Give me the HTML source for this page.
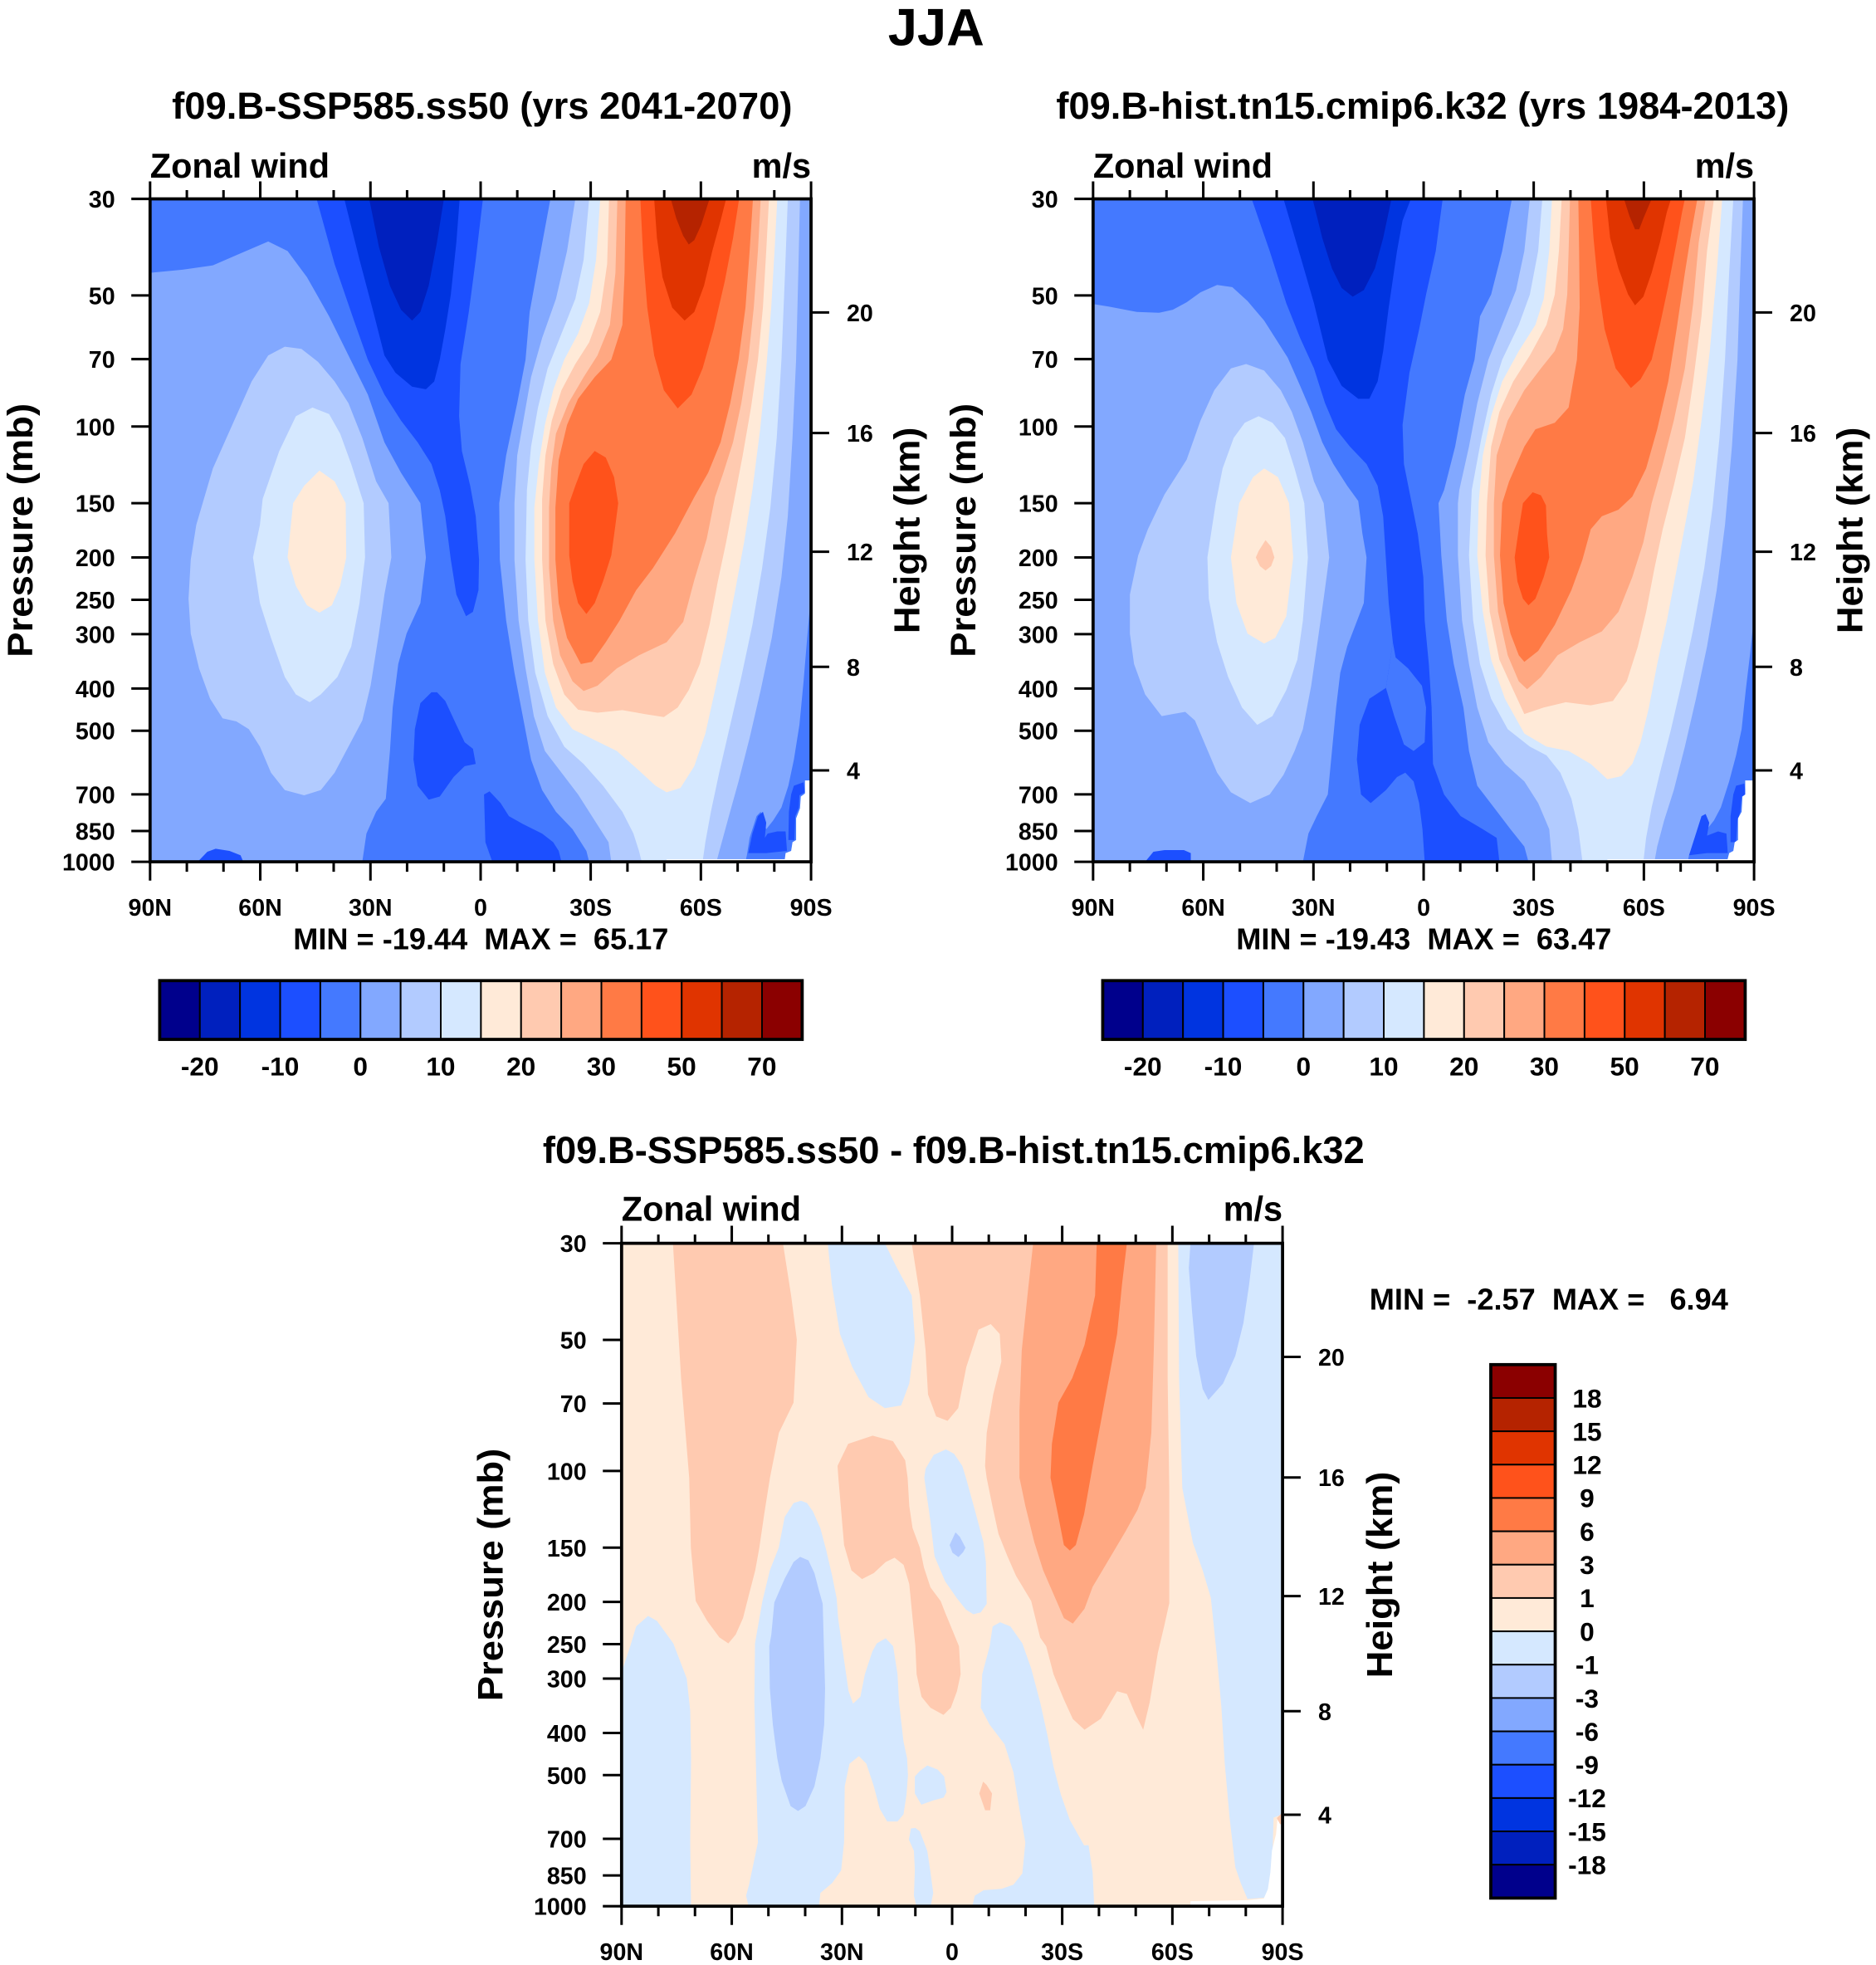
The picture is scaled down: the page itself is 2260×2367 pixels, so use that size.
<!DOCTYPE html>
<html><head><meta charset="utf-8">
<style>
html,body{margin:0;padding:0;background:#fff;width:2260px;height:2367px;overflow:hidden}
svg{display:block}
text{font-family:"Liberation Sans",Arial,sans-serif;font-weight:bold;fill:#000}
.k1{fill:#00008C}.k2{fill:#0020BE}.k3{fill:#0034E0}.k4{fill:#1C4FFF}.k5{fill:#4479FF}.k6{fill:#82A8FF}.k7{fill:#B2CBFF}.k8{fill:#D5E8FF}
.k9{fill:#FFEAD8}.k10{fill:#FFCAB0}.k11{fill:#FFA882}.k12{fill:#FF7A45}.k13{fill:#FF521B}.k14{fill:#E03400}.k15{fill:#B52300}.k16{fill:#8B0000}
.w{fill:#fff}
.tk{stroke:#000;stroke-width:2;fill:none}
.bx{stroke:#000;stroke-width:2.5;fill:none}
.cb{stroke:#000;stroke-width:1.3}
</style></head>
<body>
<svg xmlns="http://www.w3.org/2000/svg" xmlns:xlink="http://www.w3.org/1999/xlink" width="2260" height="2367" viewBox="0 0 1500 1571" preserveAspectRatio="none">
<defs>
<clipPath id="cp1"><rect x="120" y="159" width="528.5" height="530"/></clipPath>
<clipPath id="cp2"><rect x="874" y="159" width="528.5" height="530"/></clipPath>
<clipPath id="cp3"><rect x="497" y="994" width="528.5" height="529.5"/></clipPath>
<g id="ticks">
<path class="tk" d="M120,159V145M149.4,159V152M178.7,159V152M208.1,159V145M237.4,159V152M266.8,159V152M296.2,159V145M325.5,159V152M354.9,159V152M384.3,159V145M413.6,159V152M443,159V152M472.3,159V145M501.7,159V152M531.1,159V152M560.4,159V145M589.8,159V152M619.1,159V152M648.5,159V145"/>
<path class="tk" d="M120,689V704M149.4,689V697M178.7,689V697M208.1,689V704M237.4,689V697M266.8,689V697M296.2,689V704M325.5,689V697M354.9,689V697M384.3,689V704M413.6,689V697M443,689V697M472.3,689V704M501.7,689V697M531.1,689V697M560.4,689V704M589.8,689V697M619.1,689V697M648.5,689V704"/>
<path class="tk" d="M120,159H105M120,236.2H105M120,287.1H105M120,341H105M120,402.3H105M120,445.7H105M120,479.5H105M120,507H105M120,550.5H105M120,584.2H105M120,635.1H105M120,664.4H105M120,689H105"/>
<path class="tk" d="M648.5,249.8H663M648.5,346.2H663M648.5,441.1H663M648.5,533.1H663M648.5,615.9H663"/>
<rect class="bx" x="120" y="159" width="528.5" height="530"/>
</g>
</defs>

<!-- Main title -->
<text x="748.5" y="36" font-size="42" text-anchor="middle">JJA</text>

<!-- ================= LEFT PANEL ================= -->
<text x="385.5" y="95" font-size="30" text-anchor="middle" textLength="496" lengthAdjust="spacingAndGlyphs">f09.B-SSP585.ss50 (yrs 2041-2070)</text>
<text x="120" y="142" font-size="27.5" textLength="143.5" lengthAdjust="spacingAndGlyphs">Zonal wind</text>
<text x="648.5" y="142" font-size="27.5" text-anchor="end">m/s</text>

<g clip-path="url(#cp1)">
<rect x="120" y="159" width="528.5" height="530" class="k5"/>
<g transform="translate(120,159) scale(0.22122,0.34754) translate(-33,-30)">
<polygon class="k6" points="33,200 150,193 260,183 350,158 460,128 530,150 600,210 680,300 750,390 820,480 880,590 940,660 1010,730 1030,855 1010,960 960,1030 930,1100 910,1200 900,1300 885,1410 850,1440 815,1490 800,1555 33,1555"/>
<polygon class="k7" points="520,370 460,390 400,450 330,550 260,650 200,780 180,860 172,950 180,1030 210,1110 250,1180 295,1225 345,1232 390,1250 430,1290 470,1350 520,1390 590,1402 650,1390 700,1350 750,1290 800,1230 830,1150 860,1030 880,940 905,855 895,730 850,680 800,580 750,500 700,450 640,405 580,375"/>
<polygon class="k8" points="620,510 560,530 500,610 440,720 430,780 405,855 430,960 470,1040 520,1130 560,1170 610,1188 650,1170 710,1130 760,1060 790,960 810,855 805,730 760,640 720,570 680,525"/>
<polygon class="k9" points="645,655 590,690 550,730 530,855 560,920 600,965 645,982 690,965 720,920 742,855 740,730 700,680"/>
<polygon class="k4" points="635,30 700,180 770,310 820,400 880,480 940,540 1000,590 1050,640 1080,700 1100,760 1120,860 1140,940 1175,990 1200,980 1220,930 1222,860 1210,760 1190,690 1160,610 1150,530 1155,410 1185,290 1210,170 1236,30"/>
<polygon class="k3" points="735,30 790,170 840,290 880,390 920,430 980,462 1030,468 1060,450 1080,400 1100,330 1120,250 1140,130 1152,30"/>
<polygon class="k2" points="825,30 860,140 900,230 940,285 980,310 1010,290 1040,230 1070,130 1095,30"/>
<polygon class="k4" points="1050,1165 1010,1190 990,1250 985,1320 1000,1380 1040,1412 1080,1405 1130,1360 1170,1335 1210,1330 1200,1295 1170,1280 1140,1240 1100,1185 1070,1165"/>
<polygon class="k4" points="1240,1400 1260,1393 1300,1420 1330,1450 1380,1468 1450,1490 1490,1510 1510,1530 1520,1555 1270,1555 1245,1510"/>
<polygon class="k4" points="205,1555 240,1532 270,1525 320,1530 360,1540 370,1555"/>
<g transform="translate(1200,0)">
<polygon class="k6" points="280,30 245,150 205,290 190,400 160,500 120,620 95,730 97,860 120,1000 150,1120 180,1220 210,1320 250,1390 300,1440 360,1480 410,1530 420,1555 1222,1555 1222,30"/>
<polygon class="k7" points="370,30 340,150 300,260 250,350 210,440 185,530 160,620 150,730 150,860 165,1000 190,1110 220,1220 260,1300 320,1350 380,1400 440,1460 490,1510 500,1555 880,1555 895,1520 925,1450 960,1370 1000,1270 1040,1160 1080,1040 1115,900 1138,760 1155,580 1168,400 1176,200 1182,30"/>
<polygon class="k8" points="420,30 400,170 370,260 320,340 270,420 235,510 210,600 195,700 190,860 200,1000 225,1120 270,1220 330,1290 400,1330 470,1380 540,1440 580,1490 600,1530 610,1555 830,1555 840,1510 860,1440 890,1350 930,1240 970,1130 1010,1010 1045,880 1075,740 1098,580 1115,400 1128,200 1138,30"/>
<polygon class="k9" points="460,30 445,170 420,270 380,340 330,400 290,470 260,550 238,640 222,740 222,860 235,1000 260,1120 300,1200 360,1250 440,1275 520,1300 600,1345 660,1380 700,1395 750,1385 800,1335 840,1260 875,1160 915,1040 948,930 980,820 1010,700 1038,560 1060,420 1078,280 1090,150 1100,30"/>
<polygon class="k10" points="492,30 485,180 460,290 420,360 370,410 320,470 285,540 262,620 250,720 250,860 262,1000 290,1100 330,1170 380,1205 450,1212 540,1206 620,1215 690,1222 740,1200 780,1160 820,1100 855,1010 885,910 915,820 945,720 975,620 1005,510 1030,400 1048,280 1060,150 1070,30"/>
<polygon class="k11" points="522,30 515,200 495,320 450,390 400,440 345,500 300,570 283,650 275,740 275,880 290,1000 315,1080 360,1140 400,1162 450,1150 520,1110 600,1080 700,1050 760,1003 800,907 845,812 875,716 905,660 940,590 970,500 995,400 1015,280 1030,150 1040,30"/>
<polygon class="k12" points="552,30 548,200 540,320 500,400 440,440 380,490 340,550 310,630 298,740 298,860 310,960 340,1040 390,1100 430,1095 480,1050 530,1000 590,930 650,880 730,800 800,716 850,660 895,590 930,500 960,400 985,280 1000,150 1012,30"/>
<polygon class="k13" points="605,30 615,160 630,280 655,390 690,470 740,512 790,480 830,420 870,330 910,220 940,120 962,30"/>
<polygon class="k14" points="655,30 665,120 685,210 720,280 765,310 800,290 835,230 865,150 895,80 915,30"/>
<polygon class="k15" points="715,30 735,75 760,115 780,135 800,125 825,90 845,50 855,30"/>
<polygon class="k13" points="440,610 400,640 370,690 348,730 348,850 360,910 380,960 410,985 440,960 470,910 500,850 515,780 525,730 510,670 480,625"/>
<polygon class="k5" points="1222,940 1208,1040 1195,1140 1180,1240 1160,1320 1140,1380 1115,1430 1085,1460 1060,1480 1040,1440 1025,1450 1000,1500 990,1540 985,1555 1222,1555"/>
<polygon class="k4" points="1030,1450 1048,1440 1060,1465 1055,1500 1065,1490 1100,1485 1130,1485 1135,1530 1060,1535 995,1535 1010,1490"/>
<polygon class="k4" points="1160,1380 1195,1372 1200,1395 1180,1402 1178,1430 1165,1450 1162,1505 1140,1505 1142,1440 1150,1400"/>
<polygon class="w" points="1200,1368 1230,1368 1230,1560 1125,1560 1130,1535 1150,1530 1155,1510 1168,1505 1168,1455 1182,1432 1185,1405 1200,1398"/>
<rect class="w" x="700" y="1549" width="440" height="10"/>
</g>
</g>
</g>
<use xlink:href="#ticks"/>
<g font-size="19" text-anchor="end">
<text x="92" y="166">30</text><text x="92" y="243.2">50</text><text x="92" y="294.1">70</text><text x="92" y="348">100</text><text x="92" y="409.3">150</text><text x="92" y="452.7">200</text><text x="92" y="486.5">250</text><text x="92" y="514">300</text><text x="92" y="557.5">400</text><text x="92" y="591.2">500</text><text x="92" y="642.1">700</text><text x="92" y="671.4">850</text><text x="92" y="696">1000</text>
</g>
<g font-size="19">
<text x="677" y="256.8">20</text><text x="677" y="353.2">16</text><text x="677" y="448.1">12</text><text x="677" y="540.1">8</text><text x="677" y="622.9">4</text>
</g>
<g font-size="19" text-anchor="middle">
<text x="120" y="732">90N</text><text x="208.1" y="732">60N</text><text x="296.2" y="732">30N</text><text x="384.3" y="732">0</text><text x="472.3" y="732">30S</text><text x="560.4" y="732">60S</text><text x="648.5" y="732">90S</text>
</g>
<text transform="translate(26,424) rotate(-90)" font-size="28" text-anchor="middle" textLength="203" lengthAdjust="spacingAndGlyphs">Pressure (mb)</text>
<text transform="translate(735,424) rotate(-90)" font-size="29" text-anchor="middle" textLength="165" lengthAdjust="spacingAndGlyphs">Height (km)</text>
<text x="384.5" y="759" font-size="24" text-anchor="middle" xml:space="preserve" style="white-space:pre">MIN = -19.44  MAX =  65.17</text>

<!-- left colorbar -->
<g class="cb">
<rect class="k1" x="127.7" y="784" width="32.11" height="47"/><rect class="k2" x="159.81" y="784" width="32.11" height="47"/><rect class="k3" x="191.91" y="784" width="32.11" height="47"/><rect class="k4" x="224.02" y="784" width="32.11" height="47"/><rect class="k5" x="256.12" y="784" width="32.11" height="47"/><rect class="k6" x="288.23" y="784" width="32.11" height="47"/><rect class="k7" x="320.34" y="784" width="32.11" height="47"/><rect class="k8" x="352.44" y="784" width="32.11" height="47"/><rect class="k9" x="384.55" y="784" width="32.11" height="47"/><rect class="k10" x="416.65" y="784" width="32.11" height="47"/><rect class="k11" x="448.76" y="784" width="32.11" height="47"/><rect class="k12" x="480.87" y="784" width="32.11" height="47"/><rect class="k13" x="512.97" y="784" width="32.11" height="47"/><rect class="k14" x="545.08" y="784" width="32.11" height="47"/><rect class="k15" x="577.18" y="784" width="32.11" height="47"/><rect class="k16" x="609.29" y="784" width="32.11" height="47"/>
</g>
<rect class="bx" x="127.7" y="784" width="513.7" height="47"/>
<g font-size="21" text-anchor="middle">
<text x="159.8" y="860">-20</text><text x="224" y="860">-10</text><text x="288.2" y="860">0</text><text x="352.4" y="860">10</text><text x="416.6" y="860">20</text><text x="480.8" y="860">30</text><text x="545" y="860">50</text><text x="609.2" y="860">70</text>
</g>

<!-- ================= RIGHT PANEL ================= -->
<text x="1137.5" y="95" font-size="30" text-anchor="middle" textLength="586" lengthAdjust="spacingAndGlyphs">f09.B-hist.tn15.cmip6.k32 (yrs 1984-2013)</text>
<text x="874" y="142" font-size="27.5" textLength="143.5" lengthAdjust="spacingAndGlyphs">Zonal wind</text>
<text x="1402.5" y="142" font-size="27.5" text-anchor="end">m/s</text>

<g clip-path="url(#cp2)">
<rect x="874" y="159" width="528.5" height="530" class="k5"/>
<g transform="translate(874,159) scale(0.22132,0.34754) translate(-42,-30)">
<polygon class="k6" points="42,272 100,278 200,290 280,292 330,285 380,268 430,245 490,228 545,233 600,265 660,310 700,350 745,395 790,460 830,520 870,590 910,640 960,690 1000,725 1015,800 1030,855 1020,960 990,1010 960,1060 935,1120 920,1200 905,1300 890,1400 850,1450 820,1490 800,1555 42,1555"/>
<polygon class="k7" points="595,410 540,420 480,470 430,540 380,630 300,710 240,790 205,850 175,940 175,1030 190,1100 230,1170 290,1220 330,1215 375,1210 410,1230 450,1290 490,1350 540,1395 610,1420 680,1400 730,1355 770,1300 800,1250 830,1150 855,1040 875,950 895,855 875,730 840,680 800,590 760,520 720,470 660,425"/>
<polygon class="k8" points="640,530 590,545 550,580 510,650 485,730 455,855 460,950 490,1050 530,1130 580,1200 635,1240 690,1220 740,1160 780,1090 800,1000 818,855 805,730 770,650 735,580 690,545"/>
<polygon class="k9" points="660,650 620,670 570,730 540,855 560,960 600,1030 660,1053 700,1040 740,990 765,855 750,730 710,670"/>
<polygon class="k10" points="665,815 640,840 630,855 645,875 665,885 685,875 697,855 685,830"/>
<polygon class="k4" points="615,30 680,150 740,270 790,350 840,420 880,500 920,560 970,600 1030,640 1070,690 1090,760 1100,860 1110,960 1125,1050 1100,1155 1040,1180 1005,1240 995,1320 1010,1400 1045,1420 1100,1390 1140,1360 1170,1350 1200,1370 1220,1420 1232,1480 1240,1555 1510,1555 1500,1500 1450,1480 1370,1450 1310,1400 1270,1330 1265,1200 1255,1100 1240,1000 1235,900 1215,800 1190,720 1165,640 1160,550 1185,430 1220,330 1245,250 1280,150 1305,30"/>
<polygon class="k5" points="1125,1050 1135,1085 1180,1110 1230,1150 1245,1200 1240,1280 1200,1300 1165,1285 1130,1220 1100,1155"/>
<polygon class="k3" points="730,30 790,160 840,270 890,400 940,460 1000,490 1040,490 1070,450 1090,380 1110,280 1140,150 1160,80 1190,30"/>
<polygon class="k2" points="835,30 870,120 905,190 940,235 980,255 1020,240 1060,190 1090,120 1120,30"/>
<polygon class="k4" points="230,1555 260,1532 300,1528 370,1528 395,1535 395,1555"/>
<g transform="translate(1200,0)">
<polygon class="k6" points="355,30 320,150 280,250 240,300 220,400 185,480 150,600 110,700 90,730 100,850 120,1000 145,1100 180,1200 200,1300 230,1380 290,1430 350,1480 400,1520 415,1555 1230,1555 1230,30"/>
<polygon class="k7" points="420,30 400,150 370,240 320,320 270,400 230,500 200,600 165,700 160,730 160,850 175,1000 200,1100 230,1200 270,1280 330,1330 400,1370 450,1420 490,1480 500,1555 870,1555 880,1520 905,1460 940,1390 980,1290 1020,1180 1060,1060 1095,930 1125,780 1150,600 1170,400 1180,200 1190,30"/>
<polygon class="k8" points="465,30 450,150 420,250 380,320 320,400 280,480 245,580 210,700 200,850 215,1000 240,1100 280,1180 340,1250 420,1290 480,1310 530,1350 570,1410 595,1480 610,1555 830,1555 840,1500 860,1430 890,1350 930,1250 970,1140 1010,1020 1050,880 1080,740 1105,580 1125,400 1140,200 1155,30"/>
<polygon class="k9" points="500,30 490,150 470,260 440,320 380,380 320,450 280,530 250,620 235,730 230,850 250,980 280,1090 330,1180 400,1260 480,1290 560,1300 640,1330 700,1365 750,1358 790,1330 820,1280 850,1200 880,1100 915,1000 945,900 975,800 1010,680 1040,540 1070,380 1095,200 1115,30"/>
<polygon class="k10" points="535,30 525,150 510,250 480,320 420,390 360,450 310,520 280,600 265,730 260,850 275,980 310,1090 360,1160 400,1215 470,1200 550,1188 640,1195 720,1185 770,1140 810,1060 840,980 870,880 900,790 940,690 980,580 1010,450 1040,300 1060,150 1085,30"/>
<polygon class="k11" points="565,30 560,150 555,250 540,330 510,380 460,420 400,470 340,540 300,620 290,730 290,850 305,980 340,1080 380,1140 410,1158 460,1130 520,1080 600,1050 680,1025 740,980 790,900 830,820 860,730 900,640 940,540 980,420 1010,270 1030,130 1055,30"/>
<polygon class="k12" points="595,30 598,150 600,280 590,400 560,510 510,545 440,560 400,600 345,680 320,730 312,850 325,960 350,1030 380,1080 400,1095 450,1070 510,1010 570,930 610,860 640,790 680,760 740,745 790,715 840,650 880,560 920,450 950,330 980,200 1000,120 1025,30"/>
<polygon class="k13" points="640,30 650,120 665,220 690,330 730,420 785,465 820,445 860,400 890,320 920,230 950,130 970,60 980,30"/>
<polygon class="k14" points="695,30 710,120 740,190 775,250 800,275 830,255 860,200 890,130 915,60 930,30"/>
<polygon class="k15" points="760,30 780,70 800,100 815,100 830,75 850,45 860,30"/>
<polygon class="k13" points="430,705 395,730 380,790 365,855 375,910 395,950 415,965 440,950 470,900 490,855 482,800 478,735 460,712"/>
<polygon class="k5" points="1230,990 1215,1080 1200,1160 1185,1250 1165,1310 1140,1370 1110,1430 1085,1460 1060,1480 1040,1480 1020,1510 995,1540 990,1555 1230,1555"/>
<polygon class="k4" points="1040,1450 1055,1445 1068,1465 1060,1495 1100,1485 1130,1490 1135,1535 1060,1535 995,1540 1020,1490"/>
<polygon class="k4" points="1165,1380 1195,1375 1200,1400 1185,1405 1180,1440 1170,1460 1165,1510 1145,1510 1145,1450 1155,1400"/>
<polygon class="w" points="1198,1368 1235,1368 1235,1560 1130,1560 1140,1535 1155,1530 1160,1510 1172,1505 1172,1455 1185,1440 1188,1405 1198,1400"/>
<rect class="w" x="700" y="1549" width="440" height="10"/>
</g>
</g>
</g>
<use xlink:href="#ticks" transform="translate(754,0)"/>
<g font-size="19" text-anchor="end">
<text x="846" y="166">30</text><text x="846" y="243.2">50</text><text x="846" y="294.1">70</text><text x="846" y="348">100</text><text x="846" y="409.3">150</text><text x="846" y="452.7">200</text><text x="846" y="486.5">250</text><text x="846" y="514">300</text><text x="846" y="557.5">400</text><text x="846" y="591.2">500</text><text x="846" y="642.1">700</text><text x="846" y="671.4">850</text><text x="846" y="696">1000</text>
</g>
<g font-size="19">
<text x="1431" y="256.8">20</text><text x="1431" y="353.2">16</text><text x="1431" y="448.1">12</text><text x="1431" y="540.1">8</text><text x="1431" y="622.9">4</text>
</g>
<g font-size="19" text-anchor="middle">
<text x="874" y="732">90N</text><text x="962.1" y="732">60N</text><text x="1050.2" y="732">30N</text><text x="1138.3" y="732">0</text><text x="1226.3" y="732">30S</text><text x="1314.4" y="732">60S</text><text x="1402.5" y="732">90S</text>
</g>
<text transform="translate(780,424) rotate(-90)" font-size="28" text-anchor="middle" textLength="203" lengthAdjust="spacingAndGlyphs">Pressure (mb)</text>
<text transform="translate(1489,424) rotate(-90)" font-size="29" text-anchor="middle" textLength="165" lengthAdjust="spacingAndGlyphs">Height (km)</text>
<text x="1138.5" y="759" font-size="24" text-anchor="middle" xml:space="preserve" style="white-space:pre">MIN = -19.43  MAX =  63.47</text>

<!-- right colorbar -->
<g class="cb" transform="translate(754,0)">
<rect class="k1" x="127.7" y="784" width="32.11" height="47"/><rect class="k2" x="159.81" y="784" width="32.11" height="47"/><rect class="k3" x="191.91" y="784" width="32.11" height="47"/><rect class="k4" x="224.02" y="784" width="32.11" height="47"/><rect class="k5" x="256.12" y="784" width="32.11" height="47"/><rect class="k6" x="288.23" y="784" width="32.11" height="47"/><rect class="k7" x="320.34" y="784" width="32.11" height="47"/><rect class="k8" x="352.44" y="784" width="32.11" height="47"/><rect class="k9" x="384.55" y="784" width="32.11" height="47"/><rect class="k10" x="416.65" y="784" width="32.11" height="47"/><rect class="k11" x="448.76" y="784" width="32.11" height="47"/><rect class="k12" x="480.87" y="784" width="32.11" height="47"/><rect class="k13" x="512.97" y="784" width="32.11" height="47"/><rect class="k14" x="545.08" y="784" width="32.11" height="47"/><rect class="k15" x="577.18" y="784" width="32.11" height="47"/><rect class="k16" x="609.29" y="784" width="32.11" height="47"/>
</g>
<rect class="bx" x="881.7" y="784" width="513.7" height="47"/>
<g font-size="21" text-anchor="middle">
<text x="913.8" y="860">-20</text><text x="978" y="860">-10</text><text x="1042.2" y="860">0</text><text x="1106.4" y="860">10</text><text x="1170.6" y="860">20</text><text x="1234.8" y="860">30</text><text x="1299" y="860">50</text><text x="1363.2" y="860">70</text>
</g>

<!-- ================= BOTTOM PANEL ================= -->
<text x="762.5" y="930" font-size="30" text-anchor="middle" textLength="657" lengthAdjust="spacingAndGlyphs">f09.B-SSP585.ss50 - f09.B-hist.tn15.cmip6.k32</text>
<text x="497" y="976" font-size="27.5" textLength="143.5" lengthAdjust="spacingAndGlyphs">Zonal wind</text>
<text x="1025.5" y="976" font-size="27.5" text-anchor="end">m/s</text>

<g clip-path="url(#cp3)">
<rect x="497" y="994" width="528.5" height="529.5" class="k9"/>
<g transform="translate(497,994) scale(0.65166,0.43942) translate(-192,-255)">
<polygon class="k10" points="255,255 390,255 400,350 407,430 403,545 385,600 374,682 367,748 361,809 356,850 348,896 341,937 332,967 323,983 312,972 297,942 283,906 277,809 275,682 265,500"/>
<polygon class="k10" points="548,255 558,350 565,450 568,530 578,570 592,578 605,555 615,480 630,412 645,402 656,420 658,470 648,530 640,600 638,660 640,682 647,733 654.5,784 665.5,824.5 676,860 694.6,906 705.6,972.5 713,988 722,1039 734.7,1085 745.7,1120.6 760,1140 780,1120 800,1070 812,1075 822,1110 832,1140 840,1090 850,1000 858,950 864,910 864,700 862,500 862,255"/>
<polygon class="k11" points="697,255 690,350 683,450 680.2,560 680.2,681.5 687.4,732.6 698.4,799 709.3,850 725.7,906 734.7,937 745.7,947 760,920 770,880 790,830 810,780 825,740 835,700 842,600 845,450 848,255"/>
<polygon class="k12" points="775,255 773,350 760,440 745,500 728,545 720,620 718.3,681.5 727.4,748 734.7,804 742,814 749.3,804 759.5,748 770,660 780,580 790,500 800,420 806,330 812,255"/>
<polygon class="k10" points="500,605 470,620 457,660 458,682 465,804 474,850 487,866 501.5,855 516,835 527,827 538,840 545,875 549,937 552.5,988 554,1039 560,1080 571,1100 587,1113 596,1100 603.5,1070 608,1039 606,988 596,952 589,927 583.5,906 571,881 563,845 558,809 549,773 545,733 543,682 540,650 525,615"/>
<polygon class="k8" points="445,255 515,255 530,300 548,350 552,430 545,510 535,550 515,555 495,535 475,480 460,420 450,330"/>
<polygon class="k8" points="875,255 1010,255 1010,1290 992,1300 990,1400 985,1445 960,1448 952,1420 945,1390 938,1300 932,1200 928,1100 922,1000 915,900 905,850 893,800 880,700 876,500"/>
<polygon class="k7" points="890,255 968,255 962,330 955,400 945,460 930,510 912,540 905,520 897,460 892,380 888,300"/>
<polygon class="k8" points="590,630 575,640 565,665 563.4,681.5 570.7,758 576,824.5 589,870 603.5,901 614.5,921.5 623.6,930 632.7,926.6 640,911 639,835 636,799 625,738 614.5,681.5 610,660 600,638"/>
<polygon class="k7" points="601.7,781 594.5,804 598,818 605.3,826 611,817 614,809 607,789"/>
<polygon class="k8" points="193.5,1028.7 202.6,988 209.9,952 224.5,933 235.4,942 255.5,983 271.9,1046.6 276.2,1105 277.3,1192 276.2,1345 277.3,1465 185,1465 185,1028.7"/>
<polygon class="k8" points="419.5,727.5 412.2,723.4 403.1,727.5 392.1,753 384.8,809 373.9,850 364.8,906 355.7,983 354.9,1090 357.5,1243 359.3,1345 348.4,1422 344.8,1442 348.4,1465 434,1465 435.9,1437 450.4,1419 461.4,1396 465,1345 465.8,1243 471.6,1202 483.2,1188 492.4,1202 501.5,1243 508.8,1284 517.9,1307 530.6,1307 537.9,1294 541.6,1258.5 543.4,1222.7 542.3,1192 537.9,1161.5 532.4,1090 530.6,1039 525.2,988 516,973.6 505.1,983 499.6,998 490.5,1039 485,1080 476,1092.5 470.5,1069.6 465,1013.4 457.7,936.8 455.9,901 450.4,860 443.2,814 435.9,773.4 426.8,742.8"/>
<polygon class="k7" points="411.1,825.5 403.1,834.7 392.1,865.3 379.4,908.7 375.7,967.4 373.2,988 373.9,1064.5 377.6,1130.8 383,1192 388.5,1233 399.4,1279 408.5,1288 417.6,1279 428.6,1243 435.9,1192 440.6,1130.8 441.7,1064.5 440.2,988 438.8,911 434,885.7 428.6,855 421.3,832"/>
<polygon class="k10" points="635.6,1234.5 630.9,1256 638.1,1286.6 644.3,1286.6 646.5,1256 639.9,1240.6"/>
<polygon class="k8" points="567.1,1205 558,1215 551.8,1225.3 551.8,1256 559.8,1276.3 574.4,1268.7 587.1,1263.6 590.7,1253.4 587.8,1225.3 579.8,1212.5"/>
<polygon class="k8" points="547,1319.7 544.5,1340 550.7,1360.6 551.8,1396 550.7,1442 554.3,1465 570.7,1465 574.4,1437 570.7,1396 567.1,1360.6 558,1325 552.5,1318.7"/>
<polygon class="k8" points="656.4,944.5 647.3,952 643.6,988 634.5,1039 632.7,1100 643.6,1130.8 661.9,1166.6 672.8,1217.6 680.1,1284 687.4,1345.3 683.7,1401.5 672.8,1422 658.2,1429.5 636.3,1432 625.4,1442 621.7,1465 772,1465 770,1400 765,1350 759.5,1350.4 742,1304.4 731.1,1258.5 722,1207.4 714.7,1151.3 705.6,1090 694.6,1028.7 683.7,982.8 669.1,952"/>
<polygon class="w" points="1003,1290 997,1300 995,1330 990,1360 988,1400 985,1430 980,1447 960,1450 890,1452 890,1470 1010,1470 1010,1290"/>
<polygon class="k10" points="1003,1290 996,1301 1000,1312 1006,1310 1006,1290"/>
</g>
</g>
<use xlink:href="#ticks" transform="translate(377,835)"/>
<g font-size="19" text-anchor="end">
<text x="469" y="1001">30</text><text x="469" y="1078.2">50</text><text x="469" y="1129.1">70</text><text x="469" y="1183">100</text><text x="469" y="1244.3">150</text><text x="469" y="1287.7">200</text><text x="469" y="1321.5">250</text><text x="469" y="1349">300</text><text x="469" y="1392.5">400</text><text x="469" y="1426.2">500</text><text x="469" y="1477.1">700</text><text x="469" y="1506.4">850</text><text x="469" y="1531">1000</text>
</g>
<g font-size="19">
<text x="1054" y="1091.8">20</text><text x="1054" y="1188.2">16</text><text x="1054" y="1283.1">12</text><text x="1054" y="1375.1">8</text><text x="1054" y="1457.9">4</text>
</g>
<g font-size="19" text-anchor="middle">
<text x="497" y="1567">90N</text><text x="585.1" y="1567">60N</text><text x="673.2" y="1567">30N</text><text x="761.3" y="1567">0</text><text x="849.3" y="1567">30S</text><text x="937.4" y="1567">60S</text><text x="1025.5" y="1567">90S</text>
</g>
<text transform="translate(402,1259) rotate(-90)" font-size="28" text-anchor="middle" textLength="202" lengthAdjust="spacingAndGlyphs">Pressure (mb)</text>
<text transform="translate(1113,1259) rotate(-90)" font-size="29" text-anchor="middle" textLength="165" lengthAdjust="spacingAndGlyphs">Height (km)</text>
<text x="1095" y="1047" font-size="24" xml:space="preserve" style="white-space:pre">MIN =  -2.57  MAX =   6.94</text>

<!-- vertical colorbar -->
<g class="cb">
<rect class="k16" x="1192" y="1091" width="51.5" height="26.66"/>
<rect class="k15" x="1192" y="1117.66" width="51.5" height="26.66"/>
<rect class="k14" x="1192" y="1144.31" width="51.5" height="26.66"/>
<rect class="k13" x="1192" y="1170.97" width="51.5" height="26.66"/>
<rect class="k12" x="1192" y="1197.62" width="51.5" height="26.66"/>
<rect class="k11" x="1192" y="1224.28" width="51.5" height="26.66"/>
<rect class="k10" x="1192" y="1250.94" width="51.5" height="26.66"/>
<rect class="k9" x="1192" y="1277.59" width="51.5" height="26.66"/>
<rect class="k8" x="1192" y="1304.25" width="51.5" height="26.66"/>
<rect class="k7" x="1192" y="1330.9" width="51.5" height="26.66"/>
<rect class="k6" x="1192" y="1357.56" width="51.5" height="26.66"/>
<rect class="k5" x="1192" y="1384.22" width="51.5" height="26.66"/>
<rect class="k4" x="1192" y="1410.87" width="51.5" height="26.66"/>
<rect class="k3" x="1192" y="1437.53" width="51.5" height="26.66"/>
<rect class="k2" x="1192" y="1464.18" width="51.5" height="26.66"/>
<rect class="k1" x="1192" y="1490.84" width="51.5" height="26.66"/>
</g>
<rect class="bx" x="1192" y="1091" width="51.5" height="426.5"/>
<g font-size="21" text-anchor="middle">
<text x="1269" y="1125.2">18</text><text x="1269" y="1151.8">15</text><text x="1269" y="1178.5">12</text><text x="1269" y="1205.1">9</text><text x="1269" y="1231.8">6</text><text x="1269" y="1258.4">3</text><text x="1269" y="1285.1">1</text><text x="1269" y="1311.7">0</text><text x="1269" y="1338.4">-1</text><text x="1269" y="1365.1">-3</text><text x="1269" y="1391.7">-6</text><text x="1269" y="1418.4">-9</text><text x="1269" y="1445">-12</text><text x="1269" y="1471.7">-15</text><text x="1269" y="1498.3">-18</text>
</g>
</svg>
</body></html>
